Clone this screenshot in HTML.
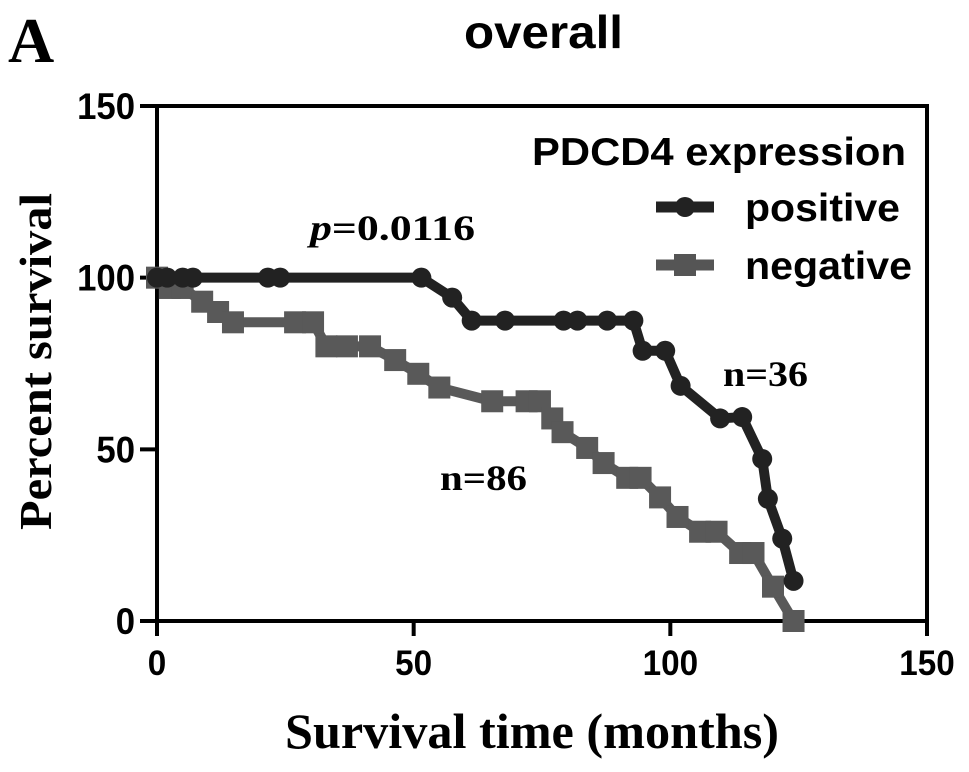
<!DOCTYPE html>
<html><head><meta charset="utf-8"><style>
html,body{margin:0;padding:0;background:#fff;}
svg{display:block;}
.sans{font-family:"Liberation Sans",Arial,sans-serif;font-weight:bold;}
.serif{font-family:"Liberation Serif","Times New Roman",serif;font-weight:bold;}
</style></head><body>
<svg id="chart" width="969" height="772" viewBox="0 0 969 772">
<text x="8" y="62" class="serif" font-size="64">A</text>
<text x="464" y="48" class="sans" font-size="46" textLength="159" lengthAdjust="spacingAndGlyphs">overall</text>
<text transform="translate(51,530) rotate(-90)" class="serif" font-size="46" textLength="337" lengthAdjust="spacingAndGlyphs">Percent survival</text>
<text x="285" y="748" class="serif" font-size="50" textLength="494" lengthAdjust="spacingAndGlyphs">Survival time (months)</text>
<g id="axes"></g>
<g id="series"></g>
<text x="310" y="240" class="serif" font-size="36" textLength="165" lengthAdjust="spacingAndGlyphs"><tspan font-style="italic">p</tspan>=0.0116</text>
<text x="723" y="386" class="serif" font-size="36" textLength="85" lengthAdjust="spacingAndGlyphs">n=36</text>
<text x="440" y="490" class="serif" font-size="36" textLength="87" lengthAdjust="spacingAndGlyphs">n=86</text>
<g>
<text x="532" y="165" class="sans" font-size="39" textLength="374" lengthAdjust="spacingAndGlyphs">PDCD4 expression</text>
<line x1="656" y1="207" x2="714" y2="207" stroke="#222" stroke-width="11"/>
<circle cx="685" cy="207" r="10" fill="#222"/>
<text x="745" y="221" class="sans" font-size="39" textLength="155" lengthAdjust="spacingAndGlyphs">positive</text>
<line x1="656" y1="265" x2="714" y2="265" stroke="#555" stroke-width="11"/>
<rect x="674" y="254" width="22" height="22" fill="#555"/>
<text x="745" y="279" class="sans" font-size="39" textLength="167" lengthAdjust="spacingAndGlyphs">negative</text>
</g>
</svg>
<script>
const xTicks=[0,50,100,150];
const yTicks=[0,50,100,150];
const posX=[0,2,5,7,21.6,24,51.5,57.5,61.3,67.8,79.2,81.9,87.7,92.8,94.6,99,102,109.7,114,117.9,119,121.8,124];
const posY=[100,100,100,100,100,100,100,94.2,87.5,87.5,87.5,87.5,87.5,87.5,78.7,78.7,68.5,59,59.4,47.2,35.6,24,11.7];
const negX=[0,2.5,5,8.8,11.9,14.8,26.9,30.4,33,37,41.5,46.4,50.9,55,65.3,72,74.6,77,79,83.8,87,91.6,94.2,98,101.4,105.8,109,113.6,116.2,120,124];
const negY=[100,97,97,93,90,87,87,87,80,80,80,76,72,68,64,64,64,59,55,50.4,46,41.7,41.7,36,30.3,26,26,19.8,19.8,10,0];
const NS='http://www.w3.org/2000/svg';
function sx(v){return 157+v*(927-157)/150;}
function sy(v){return 621-v*(621-106)/150;}
function mk(tag,attrs,parent){const e=document.createElementNS(NS,tag);for(const k in attrs)e.setAttribute(k,attrs[k]);parent.appendChild(e);return e;}
const axes=document.getElementById('axes');
const frame=mk('rect',{x:sx(0),y:sy(150),width:sx(150)-sx(0),height:sy(0)-sy(150),fill:'none',stroke:'#000','stroke-width':4},axes);


xTicks.forEach(t=>{
 const l=mk('line',{x1:sx(t),x2:sx(t),y1:sy(0),y2:sy(0)+15,stroke:'#000','stroke-width':4},axes);
 
 
 const s=String(t);
 const tx=mk('text',{x:sx(t),y:sy(0)+54,'text-anchor':'middle','font-size':35,class:'sans',textLength:s.length*18.5,lengthAdjust:'spacingAndGlyphs'},axes);
 tx.textContent=s;
 
 
});
yTicks.forEach(t=>{
 const l=mk('line',{x1:sx(0)-17,x2:sx(0),y1:sy(t),y2:sy(t),stroke:'#000','stroke-width':4},axes);
 
 
 const s=String(t);
 const tx=mk('text',{x:sx(0)-22,y:sy(t)+13,'text-anchor':'end','font-size':37,class:'sans',textLength:s.length*19.3,lengthAdjust:'spacingAndGlyphs'},axes);
 tx.textContent=s;
 
 
});
const ser=document.getElementById('series');
function draw(xs,ys,color,shape,name){
 const g=mk('g',{},ser);
 
 
 const pts=xs.map((x,i)=>sx(x)+','+sy(ys[i])).join(' ');
 const pl=mk('polyline',{points:pts,fill:'none',stroke:color,'stroke-width':10,'stroke-linejoin':'round'},g);
 
 
 xs.forEach((x,i)=>{
  let m;
  if(shape==='circle') m=mk('circle',{cx:sx(x),cy:sy(ys[i]),r:10,fill:color},g);
  else m=mk('rect',{x:sx(x)-11,y:sy(ys[i])-11,width:22,height:22,fill:color},g);
  
  
 });
}
draw(negX,negY,'#595959','square','negative');
draw(posX,posY,'#222222','circle','positive');
</script>
</body></html>
